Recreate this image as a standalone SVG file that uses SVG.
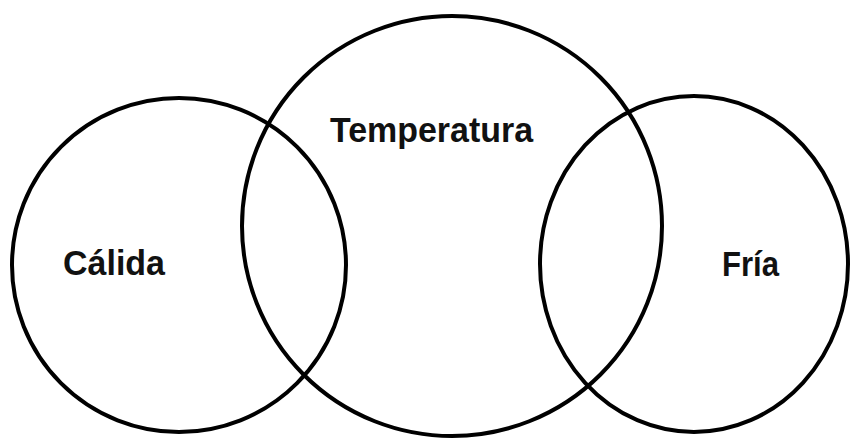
<svg xmlns="http://www.w3.org/2000/svg" width="851" height="439" viewBox="0 0 851 439">
<style>
.set{fill:none;stroke:#000;stroke-width:4}
.lbl{font-family:"Liberation Sans",Arial,sans-serif;font-weight:bold;font-size:35px;fill:#111}
</style>
<rect width="851" height="439" fill="#fff"/>
<g id="calida">
<circle class="set" cx="179" cy="265" r="167"/>
<text class="lbl" x="63" y="275" textLength="102" lengthAdjust="spacingAndGlyphs">Cálida</text>
</g>
<g id="temperatura">
<circle class="set" cx="452" cy="226" r="210"/>
<text class="lbl" x="330" y="142" textLength="203" lengthAdjust="spacingAndGlyphs">Temperatura</text>
</g>
<g id="fria">
<ellipse class="set" cx="694" cy="264" rx="154" ry="168"/>
<text class="lbl" x="722" y="276" textLength="57" lengthAdjust="spacingAndGlyphs">Fría</text>
</g>
<g id="connectors"></g>
</svg>
